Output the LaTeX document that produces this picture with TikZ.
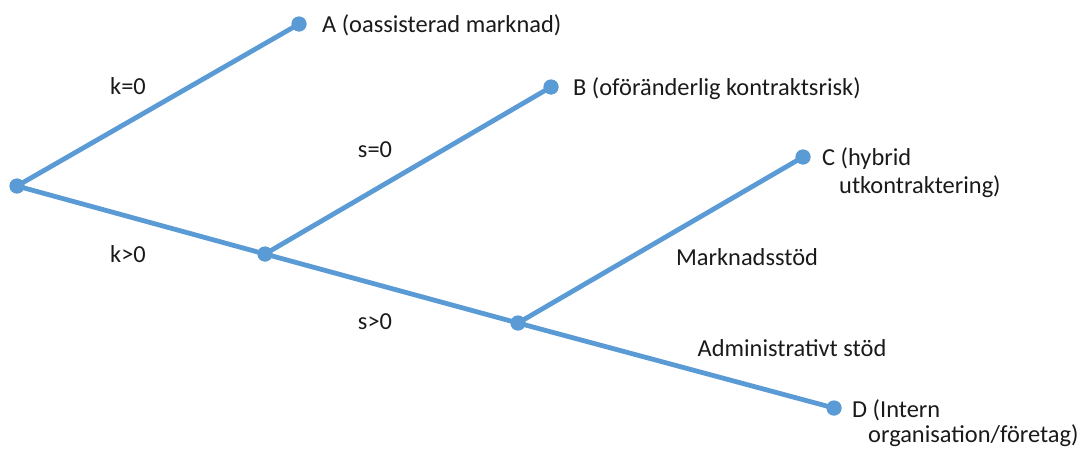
\documentclass[tikz,border=0pt]{standalone}
\usepackage{fontspec}
\setmainfont{Carlito}
\definecolor{branch}{HTML}{5B9BD5}
\definecolor{labeltext}{HTML}{1A1A1A}
\begin{document}
\begin{tikzpicture}[x=1pt,y=-1pt,
  dot/.style={circle,fill=branch,inner sep=0pt,minimum size=15pt},
  edge/.style={draw=branch,line width=4.8pt},
  lbl/.style={font=\fontsize{24.4}{27}\selectfont,text=labeltext,inner sep=0pt},
  leaf/.style={lbl,anchor=base west,align=left}]
\useasboundingbox (0,0) rectangle (1086,450);
% decision points and outcomes
\node[dot] (root) at (17,186) {};
\node[dot] (m1) at (265,254) {};
\node[dot] (m2) at (518,323) {};
\node[dot] (a) at (299,24) {};
\node[dot] (b) at (551,87) {};
\node[dot] (c) at (803,157) {};
\node[dot] (d) at (834,408) {};
% branches
\draw[edge] (root.center) -- (a.center);
\draw[edge] (root.center) -- (m1.center);
\draw[edge] (m1.center) -- (b.center);
\draw[edge] (m1.center) -- (m2.center);
\draw[edge] (m2.center) -- (c.center);
\draw[edge] (m2.center) -- (d.center);
% redraw dots on top of the lines
\foreach \n in {root,m1,m2,a,b,c,d} \fill[branch] (\n) circle (7.5);
% outcome labels (anchored at the baseline of their last line)
\node[leaf] (ta) at (322,32) {A (oassisterad marknad)};
\node[leaf] (tb) at (573,95) {B (oföränderlig kontraktsrisk)};
\node[leaf,font=\fontsize{24.4}{28}\selectfont] (tc) at (822,193) {C (hybrid\\\hspace*{17pt}utkontraktering)};
\node[leaf,font=\fontsize{24.4}{24.5}\selectfont] (td) at (852,442) {D (Intern\\\hspace*{16pt}organisation/företag)};
% branch conditions
\node[lbl] (k0) at (128,86) {k=0};
\node[lbl] (k1) at (128,254) {k>0};
\node[lbl] (s0) at (375,150) {s=0};
\node[lbl] (s1) at (375,322) {s>0};
\node[lbl] (ms) at (747,257) {Marknadsstöd};
\node[lbl] (as) at (792,348) {Administrativt stöd};
\end{tikzpicture}
\end{document}
